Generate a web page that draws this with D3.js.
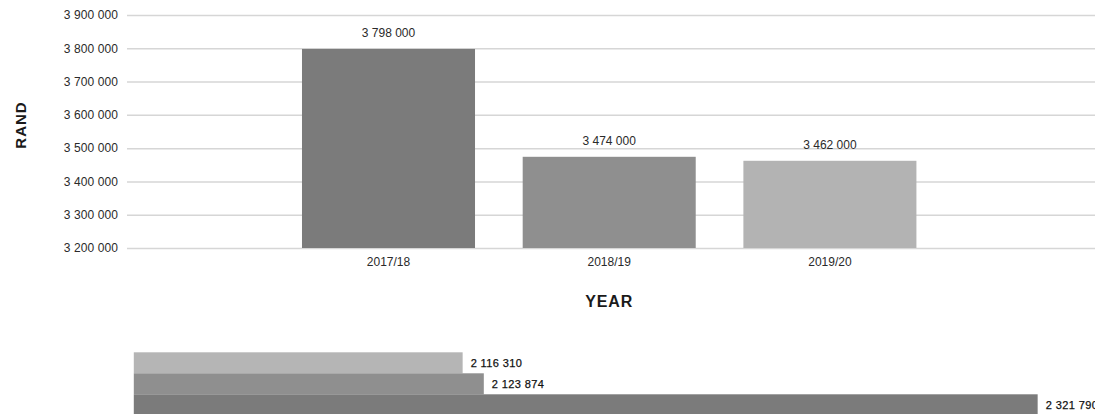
<!DOCTYPE html>
<html>
<head>
<meta charset="utf-8">
<script src="https://cdn.jsdelivr.net/npm/d3@7"></script>
<style>
  html, body { margin: 0; padding: 0; background: #fff; }
  svg { display: block; font-family: "Liberation Sans", Arial, Helvetica, sans-serif; }
</style>
</head>
<body>
<svg id="chart" width="1095" height="414"></svg>
<script>
// Annual amounts per financial year
const years = ["2017/18", "2018/19", "2019/20"];
const amounts = [3798000, 3474000, 3462000];
const barColors = ["#7b7b7b", "#8f8f8f", "#b3b3b3"];
const yTicks = [3200000, 3300000, 3400000, 3500000, 3600000, 3700000, 3800000, 3900000];

// Second series, drawn as stacked horizontal bars (latest year on top)
const hYears = ["2019/20", "2018/19", "2017/18"];
const hAmounts = [2116310, 2123874, 2321790];
const hColors = ["#b5b5b5", "#8f8f8f", "#7b7b7b"];
const hDomain = [1998800, 2350000];

const locale = d3.formatLocale({ decimal: ".", thousands: " ", grouping: [3], currency: ["", ""] });
const fmt = locale.format(",");

const svg = d3.select("#chart");
const W = 1095;

// ---- Vertical bar chart ----
const plotLeft = 127, plotRight = W, plotTop = 15, plotBottom = 248;

const y = d3.scaleLinear().domain([3200000, 3900000]).range([plotBottom, plotTop]);
const x = d3.scaleBand().domain(years).range([278.15, 940.25]).paddingInner(0.216).paddingOuter(0.108);

const yAxis = svg.append("g")
  .attr("transform", `translate(${plotLeft},0)`)
  .call(d3.axisLeft(y).tickValues(yTicks).tickFormat(fmt)
    .tickSize(-(plotRight - plotLeft)).tickPadding(9));
yAxis.select(".domain").remove();
yAxis.selectAll(".tick line").attr("stroke", "#d6d6d6").attr("stroke-width", 1.5);
yAxis.selectAll(".tick text")
  .attr("fill", "#2a2a2a").attr("font-size", 12).attr("letter-spacing", 0.1)
  .style("font-family", "'Liberation Sans', Arial, sans-serif");

svg.append("g").selectAll("rect").data(years).join("rect")
  .attr("x", d => x(d))
  .attr("y", (d, i) => y(amounts[i]))
  .attr("width", x.bandwidth())
  .attr("height", (d, i) => plotBottom - y(amounts[i]))
  .attr("fill", (d, i) => barColors[i]);

svg.append("g").selectAll("text").data(years).join("text")
  .attr("x", d => x(d) + x.bandwidth() / 2)
  .attr("y", (d, i) => y(amounts[i]) - 12)
  .attr("text-anchor", "middle")
  .attr("font-size", 12).attr("fill", "#2a2a2a")
  .text((d, i) => fmt(amounts[i]));

const xAxis = svg.append("g")
  .attr("transform", `translate(0,${plotBottom})`)
  .call(d3.axisBottom(x).tickSize(0).tickPadding(9));
xAxis.select(".domain").remove();
xAxis.selectAll(".tick text")
  .attr("fill", "#2a2a2a").attr("font-size", 12)
  .style("font-family", "'Liberation Sans', Arial, sans-serif");

// Axis titles
svg.append("text")
  .attr("transform", "translate(26,125) rotate(-90)")
  .attr("text-anchor", "middle")
  .attr("font-size", 15).attr("font-weight", "bold").attr("letter-spacing", 1)
  .attr("fill", "#1a1a1a")
  .text("RAND");

svg.append("text")
  .attr("x", x("2018/19") + x.bandwidth() / 2)
  .attr("y", 307)
  .attr("text-anchor", "middle")
  .attr("font-size", 16).attr("font-weight", "bold").attr("letter-spacing", 0.9)
  .attr("fill", "#1a1a1a")
  .text("YEAR");

// ---- Horizontal bars ----
const hx = d3.scaleLinear().domain(hDomain).range([133.8, 1116.6]);
const hy = d3.scaleBand().domain(hYears).range([352.3, 415.3]).padding(0);

svg.append("g").selectAll("rect").data(hYears).join("rect")
  .attr("x", hx(hDomain[0]))
  .attr("y", d => hy(d))
  .attr("width", (d, i) => hx(hAmounts[i]) - hx(hDomain[0]))
  .attr("height", hy.bandwidth())
  .attr("fill", (d, i) => hColors[i]);

svg.append("g").selectAll("text").data(hYears).join("text")
  .attr("x", (d, i) => hx(hAmounts[i]) + 8)
  .attr("y", d => hy(d) + hy.bandwidth() / 2)
  .attr("dy", "0.35em")
  .attr("font-size", 11).attr("letter-spacing", 0.4).attr("fill", "#111")
  .attr("stroke", "#111").attr("stroke-width", 0.25)
  .text((d, i) => fmt(hAmounts[i]));
</script>
</body>
</html>
